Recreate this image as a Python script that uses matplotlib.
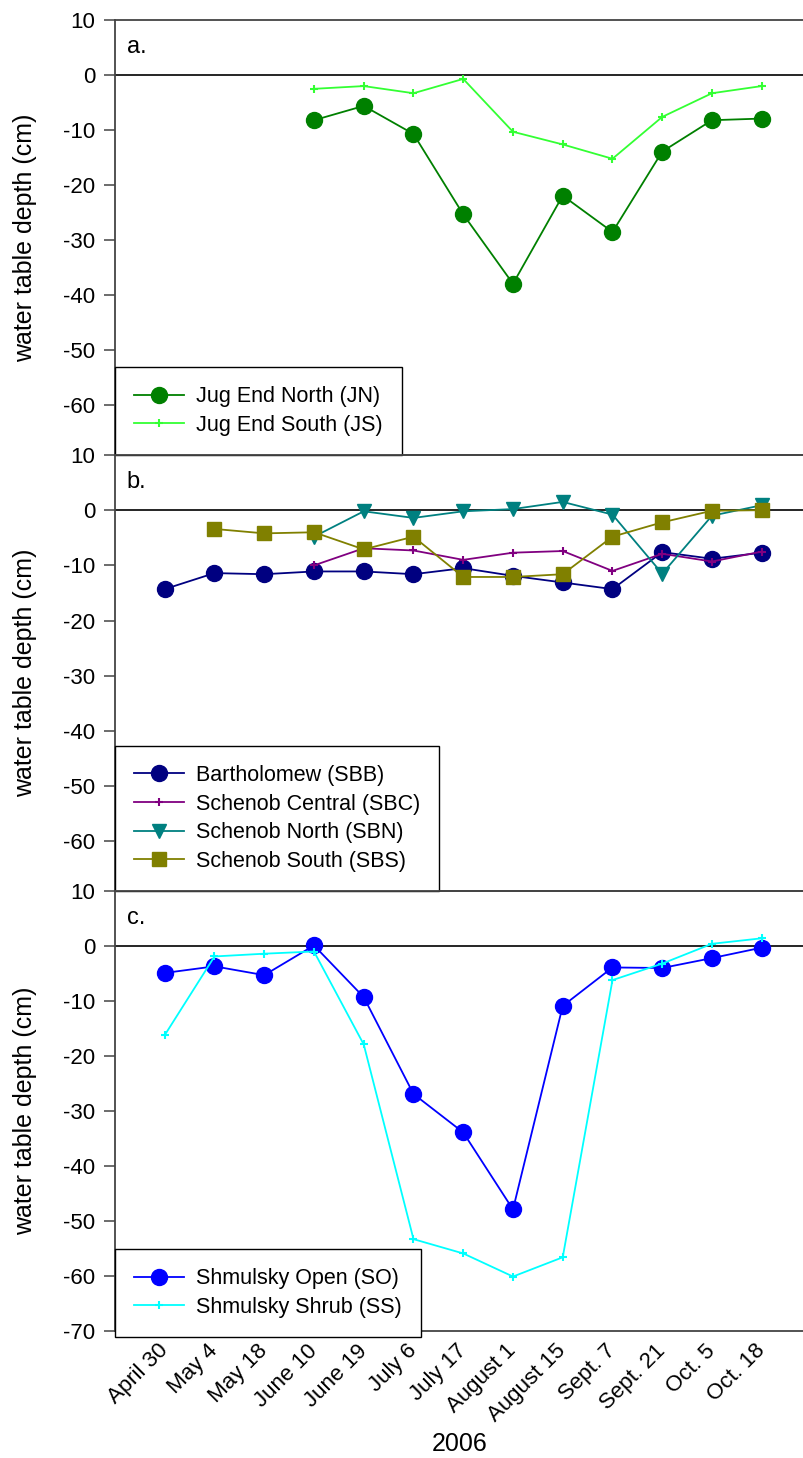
import numpy as np
import matplotlib
matplotlib.use("Agg")
import matplotlib.pyplot as plt

plt.rcParams['font.family'] = ['Liberation Sans', 'DejaVu Sans']
plt.rcParams['axes.unicode_minus'] = False

nan = np.nan

dates = ["April 30", "May 4", "May 18", "June 10", "June 19", "July 6",
         "July 17", "August 1", "August 15", "Sept. 7", "Sept. 21",
         "Oct. 5", "Oct. 18"]

# panel a: Jug End
jn = [nan, nan, nan, -8.2, -5.6, -10.7, -25.3, -37.9, -21.9, -28.5, -13.9, -8.2, -7.9]
js = [nan, nan, nan, -2.5, -2.0, -3.3, -0.7, -10.3, -12.6, -15.2, -7.6, -3.3, -2.0]

# panel b: Bartholomew / Schenob
sbb = [-14.3, -11.4, -11.6, -11.1, -11.1, -11.6, -10.5, -11.9, -13.1, -14.3, -7.6, -8.8, -7.7]
sbc = [nan, nan, nan, -10.0, -6.9, -7.3, -9.0, -7.7, -7.4, -11.0, -7.9, -9.3, -7.5]
sbn = [nan, nan, nan, -4.8, -0.2, -1.4, -0.2, 0.2, 1.5, -0.8, -11.5, -1.0, 0.9]
sbs = [nan, -3.4, -4.2, -4.0, -7.1, -4.8, -12.1, -12.1, -11.6, -4.8, -2.2, -0.1, 0.0]

# panel c: Shmulsky
so = [-4.9, -3.7, -5.3, 0.1, -9.3, -26.9, -33.9, -47.9, -10.9, -3.9, -4.0, -2.2, -0.3]
ss = [-16.2, -1.9, -1.4, -1.0, -17.9, -53.3, -55.9, -60.1, -56.6, -6.2, -3.2, 0.4, 1.4]

W, H = 804, 1458
fig = plt.figure(figsize=(W / 100, H / 100), dpi=100)

x = np.arange(len(dates))
spine_col = '#444444'


def make_axes(top_px, bottom_px, ylo, yticks, label):
    ax = fig.add_axes([115 / W, 1 - bottom_px / H, (W - 115) / W, (bottom_px - top_px) / H])
    ax.patch.set_visible(False)
    ax.set_xlim(-1, 12.85)
    ax.set_ylim(ylo, 10)
    ax.set_yticks(yticks)
    ax.tick_params(axis='y', direction='out', length=8, width=1.1, color=spine_col,
                   labelsize=16, pad=6)
    ax.set_xticks([])
    ax.spines['right'].set_visible(False)
    for s in ['left', 'top', 'bottom']:
        ax.spines[s].set_color(spine_col)
        ax.spines[s].set_linewidth(1.3)
    ax.axhline(0, color='black', lw=1.2, zorder=1)
    ax.set_ylabel('water table depth (cm)', fontsize=18)
    ax.yaxis.set_label_coords(-0.113, 0.5)
    ax.text(0.017, 0.925, label, transform=ax.transAxes, fontsize=17, va='baseline')
    return ax


def add_legend(ax, yb):
    leg = ax.legend(loc='lower left', bbox_to_anchor=(0, yb), borderaxespad=0,
                    fontsize=15.5, frameon=True, fancybox=False, framealpha=1,
                    edgecolor='black', borderpad=0.9, labelspacing=0.35,
                    handlelength=2.3, handletextpad=0.55, numpoints=1)
    leg.get_frame().set_linewidth(1.0)
    leg.set_zorder(10)
    return leg


# panel a
ax1 = make_axes(20, 455, -69, np.arange(10, -61, -10), 'a.')
ax1.plot(x, jn, color='#008000', marker='o', ms=11.5, lw=1.3, label='Jug End North (JN)')
ax1.plot(x, js, color='#33ff33', marker='+', ms=6, mew=1.5, lw=1.3, label='Jug End South (JS)')
add_legend(ax1, 0)

# panel b
ax2 = make_axes(455, 891, -69, np.arange(10, -61, -10), 'b.')
ax2.plot(x, sbb, color='#000080', marker='o', ms=11.5, lw=1.3, label='Bartholomew (SBB)')
ax2.plot(x, sbc, color='#800080', marker='+', ms=6, mew=1.5, lw=1.3, label='Schenob Central (SBC)')
ax2.plot(x, sbn, color='#008080', marker='v', ms=10, lw=1.3, label='Schenob North (SBN)')
ax2.plot(x, sbs, color='#808000', marker='s', ms=9.5, lw=1.3, label='Schenob South (SBS)')
add_legend(ax2, 0)

# panel c
ax3 = make_axes(891, 1331, -70, np.arange(10, -71, -10), 'c.')
ax3.plot(x, so, color='#0000ff', marker='o', ms=11.5, lw=1.3, label='Shmulsky Open (SO)')
ax3.plot(x, ss, color='#00ffff', marker='+', ms=6, mew=1.5, lw=1.3, label='Shmulsky Shrub (SS)')
add_legend(ax3, -0.014)

ax3.set_xticks(x)
ax3.set_xticklabels(dates, rotation=45, ha='right', va='center', rotation_mode='anchor',
                    fontsize=16)
ax3.tick_params(axis='x', length=0, pad=12)
ax3.set_xlabel('2006', fontsize=18)
ax3.xaxis.set_label_coords(0.5, -0.23)

fig.savefig('out.png', dpi=100)
